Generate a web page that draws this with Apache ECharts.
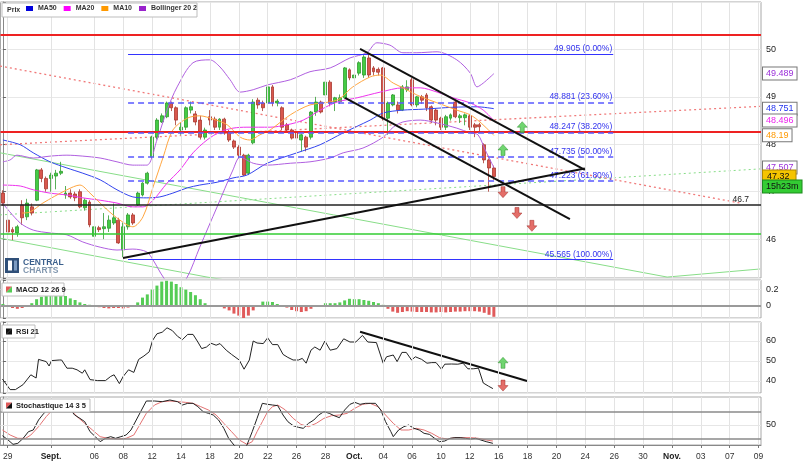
<!DOCTYPE html>
<html><head><meta charset="utf-8">
<script src="https://cdn.jsdelivr.net/npm/echarts@6/dist/echarts.min.js"></script>
<style>html,body{margin:0;padding:0;background:#fff}#c{width:806px;height:466px}</style>
</head><body><div id="c"></div><script>
// ---------- DATA ----------
const slotCount = 158;          // candle slots on the time axis (3 per trading day)
const candlesPerDay = 3;
const dayLabels = ['29','Sept.','06','08','12','14','18','20','22','26','28','Oct.','04','06','10','12','16','18','20','24','26','30','Nov.','03','07','09'];
const dayOfLabel = [0,3,6,8,10,12,14,16,18,20,22,24,26,28,30,32,34,36,38,40,42,44,46,48,50,52];
const monthLabels = ['Sept.','Oct.','Nov.'];

// [open, close, low, high]
const ohlc = [
[46.97,46.76,46.70,47.03],[46.40,46.15,45.98,46.50],[46.20,46.15,45.98,46.25],[46.13,46.26,46.05,46.30],
[46.72,46.45,46.30,46.82],[46.47,46.76,46.40,46.85],[46.68,46.55,46.50,46.75],[46.82,47.46,46.80,47.48],
[47.46,47.28,47.20,47.50],[47.28,47.06,47.00,47.32],[47.28,47.35,47.00,47.40],[47.33,47.39,47.05,47.46],
[47.39,47.43,47.35,47.63],[46.93,46.97,46.85,47.12],[46.97,46.89,46.85,47.05],[46.95,46.87,46.80,47.00],
[47.00,46.68,46.65,47.05],[46.66,46.82,46.60,46.86],[46.78,46.30,46.25,46.82],[46.06,46.26,46.03,46.30],
[46.24,46.20,46.15,46.28],[46.22,46.26,46.00,46.55],[46.23,46.40,46.15,46.50],[46.34,46.45,46.30,46.75],
[46.40,45.92,45.90,46.45],[45.77,46.26,45.62,46.35],[46.26,46.51,46.20,46.55],[46.51,46.34,46.30,46.55],
[46.72,46.97,46.70,47.00],[46.93,47.18,46.90,47.20],[47.18,47.39,47.15,47.42],[47.73,48.15,47.70,48.18],
[48.15,48.51,48.10,48.55],[48.47,48.60,48.45,48.65],[48.58,48.87,48.55,48.90],[48.87,48.77,48.70,48.90],
[48.77,48.51,48.40,48.80],[48.30,48.36,48.20,48.45],[48.36,48.77,48.30,48.80],[48.72,48.79,48.65,48.90],
[48.64,48.47,48.40,48.70],[48.51,48.15,48.10,48.60],[48.15,48.30,48.10,48.35],[48.58,48.51,48.40,48.72],
[48.53,48.36,48.30,48.58],[48.36,48.53,48.30,48.55],[48.53,48.26,48.20,48.56],[48.26,48.09,48.05,48.30],
[48.07,47.94,47.90,48.10],[47.94,47.77,47.70,47.98],[47.77,47.35,47.33,47.80],[47.39,47.77,47.35,47.80],
[48.03,48.89,48.00,48.95],[48.93,48.83,48.75,48.98],[48.87,48.77,48.70,48.92],[48.87,49.21,48.80,49.25],
[49.21,48.87,48.80,49.25],[48.87,48.91,48.80,48.95],[48.77,48.36,48.30,48.80],[48.41,48.30,48.25,48.45],
[48.30,48.13,48.10,48.33],[48.24,48.13,48.05,48.26],[48.09,48.20,47.85,48.22],[48.15,47.94,47.85,48.18],
[48.15,48.68,48.10,48.70],[48.68,48.89,48.60,49.00],[48.89,48.68,48.65,48.92],[49.04,49.31,49.00,49.45],
[49.31,48.87,48.80,49.35],[48.89,48.98,48.70,49.00],[48.90,48.98,48.85,49.05],[48.98,49.61,48.95,49.63],
[49.57,49.40,49.35,49.60],[49.40,49.46,49.35,49.50],[49.50,49.72,49.45,49.75],[49.46,49.84,49.40,49.88],
[49.82,49.46,49.40,49.90],[49.61,49.53,49.45,49.65],[49.58,49.52,49.45,49.62],[49.61,48.55,48.50,49.63],
[48.55,48.87,48.20,48.90],[48.83,49.04,48.80,49.06],[48.83,48.72,48.65,48.90],[48.72,49.21,48.70,49.25],
[49.15,49.21,49.10,49.35],[49.36,48.83,48.80,49.40],[48.83,49.00,48.78,49.02],[49.00,48.93,48.85,49.04],
[49.04,48.77,48.70,49.08],[48.79,48.51,48.45,48.82],[48.72,48.51,48.40,48.75],[48.55,48.36,48.30,48.58],
[48.36,48.58,48.30,48.62],[48.55,48.62,48.50,48.65],[48.89,48.58,48.55,48.92],[48.56,48.60,48.45,48.64],
[48.56,48.62,48.40,48.65],[48.60,48.36,48.30,48.64],[48.41,48.36,48.15,48.45],[48.41,48.37,48.25,48.45],
[47.99,47.67,47.60,48.02],[47.67,47.50,47.00,47.70],[47.50,47.32,47.25,47.55]
];

// overlays: [candle index, value]
const ma50 = [[0,48.09],[3.6,47.99],[6.3,47.82],[9.8,47.63],[13.3,47.50],[16.6,47.39],[20.2,47.25],[23.7,47.04],[27.0,46.89],[29.9,46.87],[32.6,46.89],[35.3,46.97],[38.3,47.08],[40.9,47.14],[44.5,47.20],[47.8,47.29],[50.7,47.35],[54.9,47.60],[61.1,47.82],[65.9,47.99],[70.7,48.24],[76.3,48.51],[79.0,48.66],[83.1,48.72],[87.3,48.74],[93.5,48.78],[98.5,48.79],[102,48.751]];
const ma20 = [[0,47.14],[3.6,47.12],[6.3,47.04],[9.8,46.97],[13.3,46.93],[16.6,46.87],[20.2,46.82],[23.7,46.76],[27.0,46.68],[29.1,46.68],[31.2,46.82],[34.1,47.18],[36.8,47.46],[39.5,47.82],[42.4,48.09],[45.1,48.26],[47.8,48.34],[50.7,48.36],[55.5,48.36],[59.0,48.41],[62.4,48.51],[65.9,48.72],[69.4,48.89],[73.6,48.98],[78.4,49.10],[83.1,49.19],[86.7,49.19],[90.2,49.10],[93.5,48.98],[97.1,48.87],[99.8,48.72],[102,48.496]];
const ma10 = [[4,46.55],[5.6,46.57],[8.3,46.76],[13.3,47.04],[16.0,47.14],[18.1,46.97],[20.2,46.76],[22.9,46.51],[25.8,46.30],[27.0,46.26],[29.1,46.47],[31.2,47.10],[33.3,47.73],[35.3,48.30],[38.3,48.55],[40.9,48.60],[43.7,48.53],[46.6,48.41],[49.3,48.15],[51.3,48.09],[53.4,48.20],[55.5,48.30],[59.7,48.62],[63.8,48.83],[69.4,48.93],[72.7,49.21],[76.3,49.42],[78.4,49.46],[81.1,49.29],[83.1,49.19],[86.0,49.04],[88.7,48.93],[91.4,48.83],[94.3,48.72],[97.1,48.62],[99.1,48.47],[102,48.19]];
const bollUpper = [[0,47.63],[1.5,47.67],[2.9,47.77],[6.3,47.71],[9.8,47.75],[13.3,47.77],[16.6,47.75],[20.2,47.71],[23.7,47.63],[27.0,47.56],[29.9,47.56],[32.0,48.09],[34.1,48.72],[36.2,49.21],[39.5,49.72],[43.0,49.78],[45.1,49.63],[47.2,49.36],[49.3,49.10],[52.0,49.15],[54.9,49.25],[59.7,49.36],[63.8,49.53],[68.0,49.61],[72.1,49.82],[75.6,49.93],[77.7,50.14],[80.4,50.09],[83.1,49.93],[86.0,49.93],[90.2,49.95],[94.3,49.78],[97.1,49.50],[98.5,49.21],[99.8,49.29],[102,49.489]];
const bollLower = [[0,46.75],[3.6,46.34],[6.3,46.19],[9.8,46.13],[13.3,46.09],[16.6,45.94],[20.2,45.83],[23.7,45.77],[27.0,45.79],[29.9,45.73],[31.2,45.56],[33.3,45.20],[35.8,44.90],[38.3,45.20],[40.9,45.83],[44.5,46.68],[47.8,47.46],[49.3,47.73],[52.0,47.60],[54.9,47.56],[59.7,47.60],[63.8,47.63],[68.0,47.71],[70.7,47.82],[74.8,47.92],[79.0,48.15],[81.1,48.36],[83.1,48.47],[86.7,48.51],[90.2,48.45],[94.3,48.34],[97.1,48.24],[98.7,48.20],[100.2,47.88],[102,47.507]];

const macdHist = [0.02,-0.01,-0.03,-0.04,-0.03,-0.005,0.03,0.08,0.11,0.12,0.135,0.15,0.16,0.12,0.09,0.07,0.04,0.02,0.01,-0.01,
-0.02,-0.03,-0.035,-0.03,-0.03,-0.035,-0.025,-0.01,0.04,0.1,0.14,0.2,0.25,0.3,0.31,0.3,0.27,0.23,0.2,0.17,
0.13,0.08,0.03,0.005,-0.005,-0.015,-0.035,-0.06,-0.1,-0.125,-0.155,-0.125,-0.06,-0.01,0.05,0.05,0.045,0.02,-0.01,-0.025,
-0.055,-0.07,-0.08,-0.07,-0.04,-0.01,0.005,0.03,0.03,0.03,0.04,0.065,0.085,0.08,0.08,0.07,0.06,0.045,0.03,0.01,
-0.04,-0.075,-0.09,-0.08,-0.07,-0.075,-0.08,-0.08,-0.08,-0.085,-0.085,-0.08,-0.085,-0.08,-0.075,-0.075,-0.07,-0.07,-0.07,-0.075,
-0.09,-0.115,-0.14];

const rsi21 = [[-0.1,41.0],[1.5,35.7],[2.6,35.7],[4.2,38.2],[5.8,43.1],[6.9,41.5],[7.4,50.8],[9.0,49.7],[9.6,47.5],[10.1,50.2],[11.7,50.5],[12.2,50.5],[13.3,46.4],[14.4,46.4],[15.4,45.6],[16.5,43.9],[17.0,45.6],[18.1,40.7],[19.7,40.2],[21.3,40.2],[22.4,42.3],[23.1,43.1],[24.2,38.7],[25.0,42.3],[26.1,45.6],[27.2,44.3],[28.2,50.8],[29.3,52.5],[30.4,54.6],[31.1,60.3],[32.0,63.6],[33.1,64.4],[34.1,66.6],[35.2,65.2],[36.3,62.3],[37.3,60.7],[38.4,63.3],[39.5,63.3],[40.5,59.5],[41.3,56.2],[42.3,57.0],[43.2,58.9],[44.3,57.9],[45.1,58.7],[46.4,55.4],[47.5,53.3],[49.1,50.5],[50.1,45.9],[51.2,50.5],[52.0,60.0],[52.8,59.0],[54.1,58.7],[55.0,61.6],[56.0,58.2],[57.1,58.2],[58.2,53.3],[59.2,51.8],[60.3,50.5],[61.4,50.5],[62.2,51.3],[63.0,48.9],[64.0,55.4],[64.8,57.0],[65.9,55.4],[66.9,60.0],[68.0,55.4],[69.4,56.2],[70.8,61.1],[72.1,59.5],[73.3,59.5],[74.7,62.8],[75.8,59.5],[77.6,59.2],[79.0,48.9],[79.7,52.1],[81.1,53.0],[81.9,49.7],[82.9,54.3],[83.8,54.3],[84.9,50.5],[85.7,52.1],[87.0,50.8],[88.1,48.9],[89.1,49.2],[90.0,49.2],[91.1,45.9],[91.8,48.4],[93.2,48.5],[94.5,48.4],[95.6,48.9],[96.6,46.1],[97.7,46.1],[98.8,46.4],[99.8,39.0],[100.9,37.4],[101.8,36.2]];

const stochK = [[-0.1,34],[1.0,28],[2.1,21],[3.1,22.5],[4.2,30],[5.3,40],[6.3,42.5],[7.4,57.5],[8.5,67.5],[9.6,75],[10.6,82.5],[11.7,85],[12.8,80],[13.8,75],[14.9,65],[16.0,60],[17.0,55],[18.1,40],[19.2,32.5],[20.2,25],[21.3,30],[22.4,32.5],[23.4,30],[24.5,32.5],[25.6,35],[26.6,42.5],[27.7,57.5],[28.8,72.5],[29.8,86],[31.5,86],[33.1,85],[34.7,87.5],[36.3,85],[37.3,80],[38.4,82.5],[39.5,82.5],[40.5,77.5],[41.6,70],[42.7,67.5],[43.7,65],[44.8,57.5],[45.9,45],[46.9,30],[48.0,20],[49.6,10],[50.7,20],[51.8,40],[52.8,60],[53.9,82.5],[55.0,81],[56.0,80],[57.1,79],[58.2,65],[59.2,55],[60.3,49],[61.4,46.5],[62.4,45],[63.5,52.5],[64.6,57.5],[65.6,65],[66.7,70],[67.8,67.5],[68.8,64],[69.9,61],[71.0,72.5],[72.1,81],[73.1,84],[74.2,81],[75.3,82.5],[76.3,82.5],[77.4,82.5],[78.5,72.5],[79.5,55],[80.6,40],[81.1,32.5],[82.2,42.5],[83.3,47.5],[84.3,50],[85.4,45],[86.5,42.5],[87.5,37.5],[88.6,36],[89.7,30],[90.7,25],[91.8,26],[92.9,30],[93.9,31],[95.0,31],[96.1,30],[97.2,29],[98.2,30],[99.3,27.5],[100.4,25],[101.8,22.5]];
const stochD = [[-0.1,42.5],[1.5,35],[3.1,30],[4.7,30],[5.8,35],[7.4,47.5],[9.0,62.5],[10.6,75],[11.7,80],[12.8,80],[13.8,75],[15.4,62.5],[17.0,52.5],[18.6,42.5],[20.2,32.5],[21.8,30],[24.0,29],[25.6,30],[27.2,35],[28.2,47.5],[29.8,67.5],[31.5,80],[33.1,85],[34.7,86],[36.3,85],[37.9,84],[39.5,82.5],[41.1,77.5],[42.7,72.5],[44.3,65],[45.9,52.5],[47.5,40],[49.1,27.5],[50.7,21],[51.8,25],[52.8,40],[53.9,55],[55.0,70],[56.0,77.5],[57.1,80],[58.7,72.5],[60.3,60],[61.9,51],[63.5,47.5],[65.1,52.5],[66.7,60],[68.3,64],[69.9,65],[71.5,67.5],[73.1,75],[74.7,81],[76.3,82.5],[77.9,77.5],[79.5,65],[81.1,52.5],[82.7,42.5],[84.3,42.5],[85.9,45],[87.5,42.5],[89.1,37.5],[90.7,31],[92.3,29],[93.9,31],[95.6,31],[97.2,31],[98.8,30],[100.4,27.5],[101.8,26]];

// drawings
const fibLevels = [49.905, 48.881, 48.247, 47.735, 47.223, 45.565];
const fibPcts = ['0.00%','23.60%','38.20%','50.00%','61.80%','100.00%'];
const fibSpan = [26, 126.8];
const redLevels = [50.30, 48.26];
const blackLevel = 46.72, blackLevelText = '46.7';
const greenLevel = 46.11;
const blackTrends = [[[24.95,45.60],[120.9,47.49]], [[74.2,50.01],[120.9,47.46]], [[71.1,48.98],[117.8,46.42]]];
const redDotted = [[[-0.6,49.65],[153.2,46.76]], [[-0.6,47.99],[157.3,48.80]]];
const greenDotted = [[[-0.6,46.51],[157.3,47.48]]];
const greenSolid = [[[-0.6,47.82],[138,45.20],[157.3,45.37]], [[-0.6,46.02],[42.4,45.20],[55,45.0]]];
const arrowsUp = [[107.9,48.36],[103.9,47.88]];
const arrowsDown = [[103.9,46.99],[106.8,46.55],[109.9,46.28]];
const rsiTrend = [[74.2,64.6],[108.9,40.0]];
const rsiArrowsUp = [[103.9,49.1]];
const rsiArrowsDown = [[103.9,37.7]];
const lastBollUpper = 49.489, lastMa50 = 48.751, lastMa20 = 48.496, lastMa10 = 48.19, lastBollLower = 47.507, lastPrice = 47.32;
const countdown = '15h23m';

// ---------- CHART ----------
const labelSlots = dayOfLabel.map(d => 1 + candlesPerDay * d);
const slots = Array.from({length: slotCount}, (_, i) => String(i));
const FONT = 'Liberation Sans, Arial, sans-serif';
const C = {ma50:'#3344ee', ma20:'#ee33ee', ma10:'#ffa640', boll:'#b060e0', up:'#44cc44', upB:'#2e9a2e', dn:'#d9574d', dnB:'#a8372e'};

const gridDefs = [{top:2,height:276},{top:280,height:38},{top:322,height:71},{top:397,height:48}];
const grids = gridDefs.map(g => Object.assign({left:0.5, right:45, show:true, borderColor:'#a8a8a8', borderWidth:1}, g));

const xAxes = [];
for (let g = 0; g < 4; g++) {
  const showLab = g === 3;
  xAxes.push({type:'category', gridIndex:g, data:slots, boundaryGap:true,
    axisLine:{show:showLab, lineStyle:{color:'#888'}},
    axisTick:{show:showLab, alignWithLabel:true, length:3, interval:(i)=>labelSlots.includes(i), lineStyle:{color:'#777'}},
    axisLabel:{show:showLab, interval:(i)=>labelSlots.includes(i), margin:7, fontSize:8.5, color:'#333', fontFamily:FONT,
      formatter:(v)=>{const k = labelSlots.indexOf(Number(v)); if (k<0) return ''; const t = dayLabels[k]; return monthLabels.includes(t) ? '{m|'+t+'}' : t;},
      rich:{m:{fontWeight:'bold', fontSize:8.5, color:'#222', fontFamily:FONT}}},
    splitLine:{show:false}});
}
for (let g = 0; g < 4; g++) xAxes.push({type:'value', gridIndex:g, min:-0.5, max:slotCount-0.5, show:false});

const yCommon = {type:'value', position:'right', axisLine:{show:true, lineStyle:{color:'#888'}}, axisTick:{show:true, length:3, lineStyle:{color:'#666'}}};
const lab = (fn) => ({fontSize:9, color:'#222', margin:5, fontFamily:FONT, formatter:fn});
const yAxes = [
  Object.assign({}, yCommon, {gridIndex:0, min:45.18, max:51.0, splitNumber:6, axisLabel:lab(v => (Number.isInteger(v) && v<=50 && v>=46) ? String(v) : ''), splitLine:{lineStyle:{color:'#e8e8e8'}}}),
  Object.assign({}, yCommon, {gridIndex:1, min:-0.155, max:0.32, splitNumber:2, axisLabel:lab(v => Math.abs(v)<1e-9 ? '0' : (Math.abs(v-0.2)<1e-9 ? '0.2' : '')), splitLine:{lineStyle:{color:'#e8e8e8'}}}),
  Object.assign({}, yCommon, {gridIndex:2, min:34, max:69.5, splitNumber:3, axisLabel:lab(v => (v%10===0) ? String(v) : ''), splitLine:{lineStyle:{color:'#e8e8e8'}}}),
  Object.assign({}, yCommon, {gridIndex:3, min:20, max:92, interval:10, axisTick:{show:false}, axisLabel:lab(v => v===50 ? '50' : ''), splitLine:{show:false}})
];

const series = [];
// vertical grid lines for each panel
for (let g = 0; g < 4; g++) {
  series.push({type:'line', xAxisIndex:4+g, yAxisIndex:g, data:[], silent:true, z:0,
    markLine:{silent:true, animation:false, symbol:['none','none'], label:{show:false}, lineStyle:{color:'#e3e3e3', width:1, type:'solid'},
      data: labelSlots.map(s => ({xAxis:s}))}});
}
// horizontal levels and fibonacci
const levelData = [];
redLevels.forEach(v => levelData.push({yAxis:v, lineStyle:{color:'#ee2222', width:2, type:'solid'}}));
levelData.push({yAxis:greenLevel, lineStyle:{color:'#33cc33', width:1.5, type:'solid'}});
levelData.push({yAxis:blackLevel, lineStyle:{color:'#222', width:1.5, type:'solid'},
  label:{show:true, position:'insideEndTop', formatter:blackLevelText, color:'#222', fontSize:8.5, distance:[12,1], fontFamily:FONT}});
fibLevels.forEach((v, i) => {
  const solid = (i === 0 || i === fibLevels.length-1);
  levelData.push([
    {coord:[fibSpan[0], v], lineStyle:{color: solid ? '#3333ff' : '#5a5aff', width: solid ? 1 : 1.5, type: solid ? 'solid' : [6,4]},
     label:{show:true, position:'insideEndTop', formatter: v.toFixed(3)+' ('+fibPcts[i]+')', color:'#3333ee', fontSize:8.5, distance:1, fontFamily:FONT}},
    {coord:[fibSpan[1], v]}
  ]);
});
series.push({type:'line', xAxisIndex:4, yAxisIndex:0, data:[], silent:true, z:1,
  markLine:{silent:true, animation:false, symbol:['none','none'], label:{show:false}, data:levelData}});

const lineS = (name, data, xi, yi, color, width, type, z, smooth) => ({type:'line', name, xAxisIndex:xi, yAxisIndex:yi, data, symbol:'none', silent:true, z, smooth: smooth || false, color, lineStyle:{color, width, type}});
greenSolid.forEach(d => series.push(lineS('', d, 4, 0, '#88dd88', 1, 'solid', 1)));
greenDotted.forEach(d => series.push(lineS('', d, 4, 0, '#88dd88', 1, [2,3], 1)));
redDotted.forEach(d => series.push(lineS('', d, 4, 0, '#f07a7a', 1.3, [2,3], 1)));

series.push({type:'candlestick', name:'Prix', xAxisIndex:0, yAxisIndex:0, data:ohlc, barWidth:3.4, z:3, silent:true,
  itemStyle:{color:C.up, color0:C.dn, borderColor:C.upB, borderColor0:C.dnB, borderWidth:0.8}});

series.push(lineS('MA50', ma50, 4, 0, C.ma50, 1, 'solid', 4, 0.3));
series.push(lineS('MA20', ma20, 4, 0, C.ma20, 1, 'solid', 4, 0.3));
series.push(lineS('MA10', ma10, 4, 0, C.ma10, 1, 'solid', 4, 0.3));
series.push(lineS('Bollinger 20 2', bollUpper, 4, 0, C.boll, 1, 'solid', 4, 0.3));
series.push(lineS('Bollinger 20 2', bollLower, 4, 0, C.boll, 1, 'solid', 4, 0.3));
blackTrends.forEach(d => series.push(lineS('', d, 4, 0, '#111', 2, 'solid', 5)));

const UP = 'path://M5,0 L10,5 L7,5 L7,10 L3,10 L3,5 L0,5 Z';
const DOWN = 'path://M3,0 L7,0 L7,5 L10,5 L5,10 L0,5 L3,5 Z';
const arrowS = (data, xi, yi, sym, fill, stroke) => ({type:'scatter', xAxisIndex:xi, yAxisIndex:yi, data, symbol:sym, symbolSize:[10,11], silent:true, z:6,
  itemStyle:{color:fill, borderColor:stroke, borderWidth:0.6}});
series.push(arrowS(arrowsUp, 4, 0, UP, '#4ccc4c', '#2a8a2a'));
series.push(arrowS(arrowsDown, 4, 0, DOWN, '#dd4a44', '#a02a25'));

// right-edge value tags
const tag = (v, txt, color, bg, border, extra) => ({yAxis:v, lineStyle:{color:'rgba(0,0,0,0)', width:1, type:'solid'},
  label:Object.assign({show:true, position:'end', distance:2, formatter:txt, color, backgroundColor:bg, borderColor:border, borderWidth:1, padding:[2,3,1,3], fontSize:9, fontFamily:FONT}, extra||{})});
series.push({type:'line', xAxisIndex:4, yAxisIndex:0, data:[], silent:true, z:7,
  markLine:{silent:true, animation:false, symbol:['none','none'], data:[
    tag(lastBollUpper, String(lastBollUpper), '#9b30d9', '#fff', '#777'),
    tag(lastMa50, String(lastMa50), '#2233ee', '#fff', '#777'),
    tag(lastMa20, String(lastMa20), '#ee22ee', '#fff', '#777'),
    tag(lastMa10, String(lastMa10), '#ff9900', '#fff', '#777'),
    tag(lastBollLower, String(lastBollLower), '#9b30d9', '#fff', '#777'),
    tag(lastPrice, String(lastPrice), '#111', '#f5c400', '#b08a00', {padding:[2,6,1,4]}),
    tag(lastPrice, countdown, '#111', '#33cc33', '#1d8a1d', {offset:[0,10]})
  ]}});

// MACD
series.push({type:'bar', xAxisIndex:1, yAxisIndex:1, barWidth:3, silent:true, z:2,
  data: macdHist.map(v => ({value:v, itemStyle:{color: v >= 0 ? '#55cc55' : '#e05a5a'}})),
  markLine:{silent:true, animation:false, symbol:['none','none'], label:{show:false}, data:[{yAxis:0, lineStyle:{color:'#9a9a9a', width:2, type:'solid'}}]}});
// RSI
series.push(lineS('', rsi21, 6, 2, '#222', 1, 'solid', 3));
series.push(lineS('', rsiTrend, 6, 2, '#111', 2, 'solid', 4));
series.push(arrowS(rsiArrowsUp, 6, 2, UP, '#4ccc4c', '#2a8a2a'));
series.push(arrowS(rsiArrowsDown, 6, 2, DOWN, '#dd4a44', '#a02a25'));
// Stochastic
series.push({type:'line', xAxisIndex:7, yAxisIndex:3, data:[], silent:true, z:1,
  markLine:{silent:true, animation:false, symbol:['none','none'], label:{show:false}, data:[
    {yAxis:50, lineStyle:{color:'#e6e6e6', width:1, type:'solid'}},
    {yAxis:70, lineStyle:{color:'#8a8a8a', width:1.5, type:'solid'}},
    {yAxis:30, lineStyle:{color:'#8a8a8a', width:1.5, type:'solid'}}]}});
series.push(lineS('', stochD, 7, 3, '#e37373', 1, 'solid', 3));
series.push(lineS('', stochK, 7, 3, '#222', 1, 'solid', 4));

function panelLegend(x, y, w, text, c1, c2) {
  const Z = 50;
  return [
    {type:'rect', z:Z, shape:{x:x, y:y, width:w, height:13}, style:{fill:'#fff', stroke:'#bdbdbd', lineWidth:1}},
    {type:'polygon', z:Z+1, shape:{points:[[x+4,y+3.5],[x+10,y+3.5],[x+4,y+9.5]]}, style:{fill:c1}},
    {type:'polygon', z:Z+1, shape:{points:[[x+10,y+3.5],[x+10,y+9.5],[x+4,y+9.5]]}, style:{fill:c2}},
    {type:'text', z:Z+1, x:x+14, y:y+7, style:{text:text, fill:'#222', font:'bold 7.5px '+FONT, textVerticalAlign:'middle'}}
  ];
}

const option = {
  animation:false,
  backgroundColor:'#fff',
  textStyle:{fontFamily:FONT},
  legend:{left:26, top:5, selectedMode:false, itemWidth:7, itemHeight:5, itemGap:7, padding:0, z:60,
    textStyle:{fontSize:7, fontWeight:'bold', color:'#333', fontFamily:FONT},
    data:[{name:'MA50', icon:'rect', itemStyle:{color:'#0000dd'}}, {name:'MA20', icon:'rect', itemStyle:{color:'#ff00ff'}},
          {name:'MA10', icon:'rect', itemStyle:{color:'#ff9900'}}, {name:'Bollinger 20 2', icon:'rect', itemStyle:{color:'#9922cc'}}]},
  grid:grids, xAxis:xAxes, yAxis:yAxes, series:series,
  graphic:[].concat(
    [{type:'rect', z:50, shape:{x:2, y:3, width:195, height:14}, style:{fill:'#fff', stroke:'#bdbdbd', lineWidth:1}},
     {type:'text', z:51, x:7, y:10, style:{text:'Prix', fill:'#333', font:'bold 7px '+FONT, textVerticalAlign:'middle'}}],
    panelLegend(2, 283, 62, 'MACD 12 26 9', '#e05a5a', '#55cc55'),
    panelLegend(2, 325, 33, 'RSI 21', '#111', '#111'),
    panelLegend(2, 399, 88, 'Stochastique 14 3 5', '#e05a5a', '#111'),
    [{type:'rect', z:50, shape:{x:5, y:258, width:14, height:15}, style:{fill:'#2f4f78'}},
     {type:'rect', z:51, shape:{x:8, y:260.5, width:4, height:10}, style:{fill:'#fff'}},
     {type:'rect', z:51, shape:{x:14, y:260.5, width:3, height:10}, style:{fill:'#7d9cc2'}},
     {type:'text', z:51, x:23, y:258, style:{text:'CENTRAL', fill:'#3a5f8c', font:'bold 8.5px '+FONT}},
     {type:'text', z:51, x:23, y:266, style:{text:'CHARTS', fill:'#7f95ad', font:'bold 8.5px '+FONT}}]
  )
};
const chart = echarts.init(document.getElementById('c'), null, {renderer:'canvas'});
chart.setOption(option);
</script></body></html>
